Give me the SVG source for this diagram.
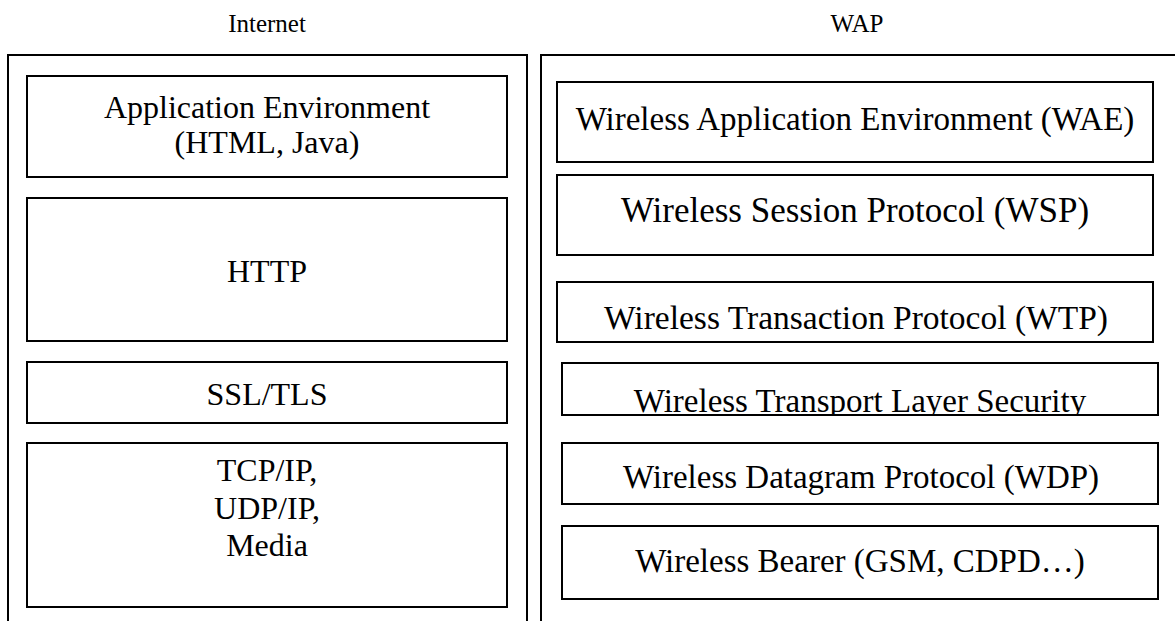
<svg xmlns="http://www.w3.org/2000/svg" width="1175" height="621" viewBox="0 0 1175 621">
  <style>
    .frame { fill: none; stroke: #000; stroke-width: 2; }
    .box { fill: #fff; stroke: #000; stroke-width: 2; }
    .lt { font-family: "Liberation Serif", "Times New Roman", serif; font-size: 32px; fill: #000; text-anchor: middle; }
    .rt { font-family: "Liberation Serif", "Times New Roman", serif; font-size: 33px; fill: #000; text-anchor: middle; }
    .hd { font-family: "Liberation Serif", "Times New Roman", serif; font-size: 25px; fill: #000; text-anchor: middle; }
  </style>
  <defs>
    <clipPath id="clipWtls">
      <rect x="562" y="363" width="596" height="51"/>
    </clipPath>
  </defs>
  <rect width="1175" height="621" fill="#fff"/>

  <g id="internet-column">
    <text class="hd" x="267" y="32">Internet</text>
    <path class="frame" d="M8,622 V55 H527 V622"/>
  </g>
  <g id="wap-column">
    <text class="hd" x="857" y="32">WAP</text>
    <path class="frame" d="M541,622 V55 H1177"/>
  </g>

  <g id="app-env">
    <rect class="box" x="27" y="76" width="480" height="101"/>
    <text class="lt" x="267" y="118">Application Environment</text>
    <text class="lt" x="267" y="153">(HTML, Java)</text>
  </g>
  <g id="http">
    <rect class="box" x="27" y="198" width="480" height="143"/>
    <text class="lt" x="267" y="282">HTTP</text>
  </g>
  <g id="ssl-tls">
    <rect class="box" x="27" y="362" width="480" height="61"/>
    <text class="lt" x="267" y="405">SSL/TLS</text>
  </g>
  <g id="tcp-ip">
    <rect class="box" x="27" y="443" width="480" height="164"/>
    <text class="lt" x="267" y="481">TCP/IP,</text>
    <text class="lt" x="267" y="519">UDP/IP,</text>
    <text class="lt" x="267" y="556">Media</text>
  </g>

  <g id="wae">
    <rect class="box" x="557" y="82" width="596" height="80"/>
    <text class="rt" x="855" y="130">Wireless Application Environment (WAE)</text>
  </g>
  <g id="wsp">
    <rect class="box" x="557" y="175" width="596" height="80"/>
    <text class="rt" x="855" y="222" style="font-size:35px">Wireless Session Protocol (WSP)</text>
  </g>
  <g id="wtp">
    <rect class="box" x="557" y="282" width="596" height="60"/>
    <text class="rt" x="856" y="329" style="font-size:33.5px">Wireless Transaction Protocol (WTP)</text>
  </g>
  <g id="wtls">
    <rect class="box" x="562" y="363" width="596" height="52"/>
    <text class="rt" x="860" y="412" clip-path="url(#clipWtls)">Wireless Transport Layer Security</text>
  </g>
  <g id="wdp">
    <rect class="box" x="562" y="443" width="596" height="61"/>
    <text class="rt" x="861" y="488">Wireless Datagram Protocol (WDP)</text>
  </g>
  <g id="bearer">
    <rect class="box" x="562" y="526" width="596" height="73"/>
    <text class="rt" x="860" y="572">Wireless Bearer (GSM, CDPD…)</text>
  </g>

  <g id="connectors"></g>
</svg>
